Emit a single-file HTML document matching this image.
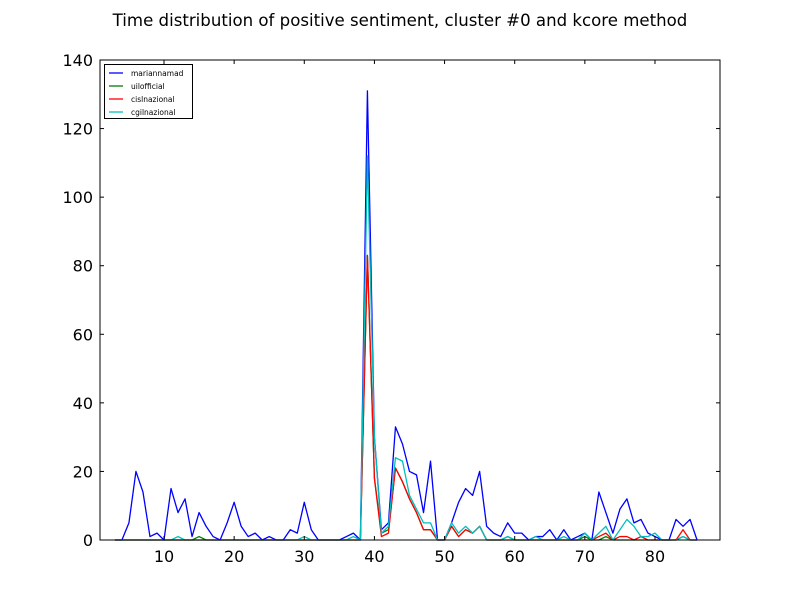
<!DOCTYPE html>
<html><head><meta charset="utf-8"><style>
body{margin:0;background:#fff;}
svg{display:block;font-family:"DejaVu Sans","Liberation Sans",sans-serif;}
</style></head><body>
<svg id="chart" width="800" height="600">
<rect x="0" y="0" width="800" height="600" fill="#fff"/>
<text x="400" y="26" text-anchor="middle" font-size="16.6">Time distribution of positive sentiment, cluster #0 and kcore method</text>
<g id="plot"></g>
</svg>
<script>
const xs = [];
for (let i = 3; i <= 86; i++) xs.push(i);
const marianna = [0,0,5,20,14,1,2,0,15,8,12,1,8,4,1,0,5,11,4,1,2,0,1,0,0,3,2,11,3,0,0,0,0,1,2,0,131,30,3,5,33,28,20,19,8,23,0,0,5,11,15,13,20,4,2,1,5,2,2,0,1,1,3,0,3,0,1,2,0,14,8,2,9,12,5,6,2,1,0,0,6,4,6,0];
const uil = [0,0,0,0,0,0,0,0,0,0,0,0,1,0,0,0,0,0,0,0,0,0,0,0,0,0,0,0,0,0,0,0,0,0,0,0,83,18,2,3,21,17,12,8,3,3,0,0,4,1,3,2,4,0,0,0,1,0,0,0,0,0,0,0,0,0,0,1,0,0,1,0,0,0,0,0,0,0,0,0,0,1,0,0];
const cisl = [0,0,0,0,0,0,0,0,0,0,0,0,0,0,0,0,0,0,0,0,0,0,0,0,0,0,0,0,0,0,0,0,0,0,0,0,83,18,1,2,21,17,12,8,3,3,0,0,4,1,3,2,4,0,0,0,0,0,0,0,0,0,0,0,0,0,0,0,0,1,2,0,1,1,0,1,0,0,0,0,0,3,0,0];
const cgil = [0,0,0,0,0,0,0,0,0,1,0,0,0,0,0,0,0,0,0,0,0,0,0,0,0,0,0,1,0,0,0,0,0,0,1,0,112,30,2,4,24,23,13,9,5,5,0,0,5,2,4,2,4,0,0,0,1,0,0,0,1,0,0,0,1,0,0,2,0,2,4,0,3,6,4,1,1,2,0,0,0,1,0,0];
const yTicks = [0,20,40,60,80,100,120,140];
const xTicks = [10,20,30,40,50,60,70,80];
const seriesNames = ["mariannamad","uilofficial","cislnazional","cgilnazional"];

const L=100,R=720,T=60,B=540;
const X = v => 164 + (v-10)*7.014;
const Y = v => B - v*(B-T)/140;
const NS="http://www.w3.org/2000/svg";
const g=document.getElementById('plot');
function mk(tag,attrs){const e=document.createElementNS(NS,tag);for(const k in attrs)e.setAttribute(k,attrs[k]);g.appendChild(e);return e;}

const series=[[marianna,"#0000ff"],[uil,"#008000"],[cisl,"#ff0000"],[cgil,"#00bfbf"]];
series.forEach((s,i)=>{
  const pts=xs.map((x,j)=>X(x).toFixed(2)+","+Y(s[0][j]).toFixed(2)).join(" ");
  const p=mk('polyline',{points:pts,fill:"none",stroke:s[1],"stroke-width":1.3,"stroke-linejoin":"round"});
  
  
});
const frame=mk('rect',{x:L,y:T,width:R-L,height:B-T,fill:"none",stroke:"#000","stroke-width":1});


yTicks.forEach(v=>{
  const y=Y(v);
  mk('line',{x1:L,x2:L+4,y1:y,y2:y,stroke:"#000"});
  mk('line',{x1:R,x2:R-4,y1:y,y2:y,stroke:"#000"});
  const t=mk('text',{x:L-7,y:y+6,"text-anchor":"end","font-size":16});
  t.textContent=v;
  
  
});
xTicks.forEach(v=>{
  const x=X(v);
  mk('line',{x1:x,x2:x,y1:B,y2:B-4,stroke:"#000"});
  mk('line',{x1:x,x2:x,y1:T,y2:T+4,stroke:"#000"});
  const t=mk('text',{x:x,y:B+22,"text-anchor":"middle","font-size":16});
  t.textContent=v;
  
  
});
const lg=mk('rect',{x:104.5,y:64.5,width:88,height:54,fill:"#fff",stroke:"#000","stroke-width":1});


series.forEach((s,i)=>{
  const y=73+i*13;
  mk('line',{x1:109,x2:123,y1:y,y2:y,stroke:s[1],"stroke-width":1.3});
  const t=mk('text',{x:131,y:y+3,"font-size":7.5});
  t.textContent=seriesNames[i];
  
  
});
</script>
</body></html>
